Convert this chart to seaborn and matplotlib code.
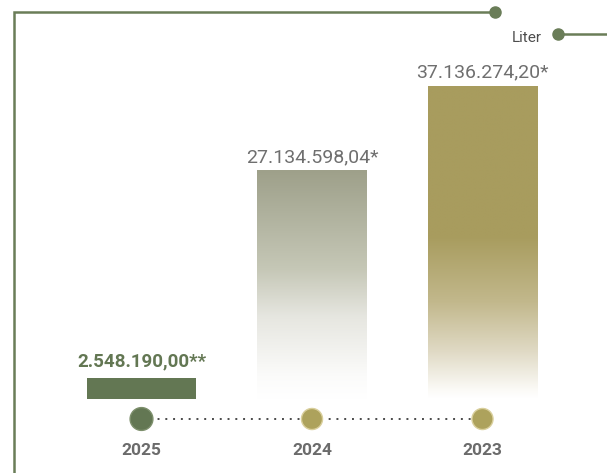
import numpy as np
import pandas as pd
import matplotlib
matplotlib.use("Agg")
import matplotlib.pyplot as plt
from matplotlib.colors import LinearSegmentedColormap
from matplotlib.lines import Line2D
import seaborn as sns

# Annual volumes in liters
years = ["2025", "2024", "2023"]
liters = [2548190.00, 27134598.04, 37136274.20]
value_labels = ["2.548.190,00**", "27.134.598,04*", "37.136.274,20*"]
unit_label = "Liter"

GREEN = "#637753"
FRAME = "#6a7d58"
OLIVE_DOT = "#ada25c"
YEAR_GREY = "#6b6b6b"
VALUE_GREY = "#6f6f6f"

sns.set_theme(style="white")
plt.rcParams["font.family"] = ["Roboto", "DejaVu Sans"]

W, H = 607, 473
fig = plt.figure(figsize=(W / 100, H / 100), dpi=100)
ax = fig.add_axes([0, 0, 1, 1])

df = pd.DataFrame({"year": years, "liters": liters})
sns.barplot(data=df, x="year", y="liters", order=years, width=0.64,
            color=GREEN, saturation=1, errorbar=None, ax=ax)

# vertical gradients (top colour -> white) for the two full-year bars
fades = {
    "2024": [(0.0, "#9ea08a"), (0.43, "#c5c7b6"), (0.64, "#e6e6e0"),
             (0.9, "#fbfbfa"), (1.0, "#ffffff")],
    "2023": [(0.0, "#a89c5e"), (0.48, "#a89c5e"), (0.69, "#c2b88c"),
             (0.85, "#e0dac5"), (0.97, "#fbfaf6"), (1.0, "#ffffff")],
}
grad = np.linspace(0, 1, 256).reshape(-1, 1)
for year, bar in zip(years, ax.patches):
    if year in fades:
        cmap = LinearSegmentedColormap.from_list("fade" + year, fades[year])
        x0, w, h = bar.get_x(), bar.get_width(), bar.get_height()
        im = ax.imshow(grad, cmap=cmap, vmin=0, vmax=1,
                       extent=[x0, x0 + w, 0, h], origin="upper",
                       aspect="auto", interpolation="bilinear",
                       zorder=bar.get_zorder())
        im.set_clip_path(bar)
        bar.set_facecolor("none")
    bar.set_edgecolor("none")

# value labels above the bars
for i, (v, lab) in enumerate(zip(liters, value_labels)):
    if i == 0:
        ax.annotate(lab, xy=(i, v), xytext=(0, 8), textcoords="offset points",
                    ha="center", va="baseline", fontsize=13.5,
                    fontweight="bold", color=GREEN)
    else:
        ax.annotate(lab, xy=(i, v), xytext=(0, 6), textcoords="offset points",
                    ha="center", va="baseline", fontsize=14,
                    color=VALUE_GREY)

# axis extent: baseline 74 px above the bottom edge, category spacing 170.5 px
vmax = max(liters)
per_px = vmax / (399 - 86)
ax.set_ylim(-(H - 399) * per_px, 399 * per_px)
ax.set_xlim(-141.5 / 170.5, (W - 141.5) / 170.5)
ax.axis("off")

# timeline with year markers
tx = ax.get_xaxis_transform()
ty = 1 - 419 / H
xs = np.arange(len(years))
ax.plot([xs[0], xs[-1]], [ty, ty], transform=tx, ls=(0, (1, 3)), lw=1.4,
        color="#4a4a4a", zorder=1)
ax.scatter(xs, [ty] * len(xs), transform=tx, s=[270, 230, 230],
           c=[GREEN, OLIVE_DOT, OLIVE_DOT],
           edgecolors=["#7d8f6c", "#d9cf9c", "#d9cf9c"], linewidths=1.0,
           zorder=3, clip_on=False)
for x, yr in zip(xs, years):
    ax.text(x, 1 - 450 / H, yr, transform=tx, ha="center", va="center",
            fontsize=12.5, fontweight="bold", color=YEAR_GREY)

# decorative frame and unit tag
def fx(px):
    return px / W


def fy(py):
    return 1 - py / H


fig.add_artist(Line2D([fx(14), fx(14), fx(495)], [fy(475), fy(12), fy(12)],
                      lw=1.8, color=FRAME, solid_joinstyle="miter"))
fig.add_artist(Line2D([fx(495)], [fy(12)], marker="o", markersize=8,
                      color=FRAME, lw=0))
fig.add_artist(Line2D([fx(558), 1.0], [fy(34), fy(34)], lw=1.8, color=FRAME))
fig.add_artist(Line2D([fx(558)], [fy(34)], marker="o", markersize=8,
                      color=FRAME, lw=0))
fig.text(fx(542), fy(38), unit_label, ha="right", va="center", fontsize=11,
         color="#4d4d4d")

fig.savefig("out.png", dpi=100)
